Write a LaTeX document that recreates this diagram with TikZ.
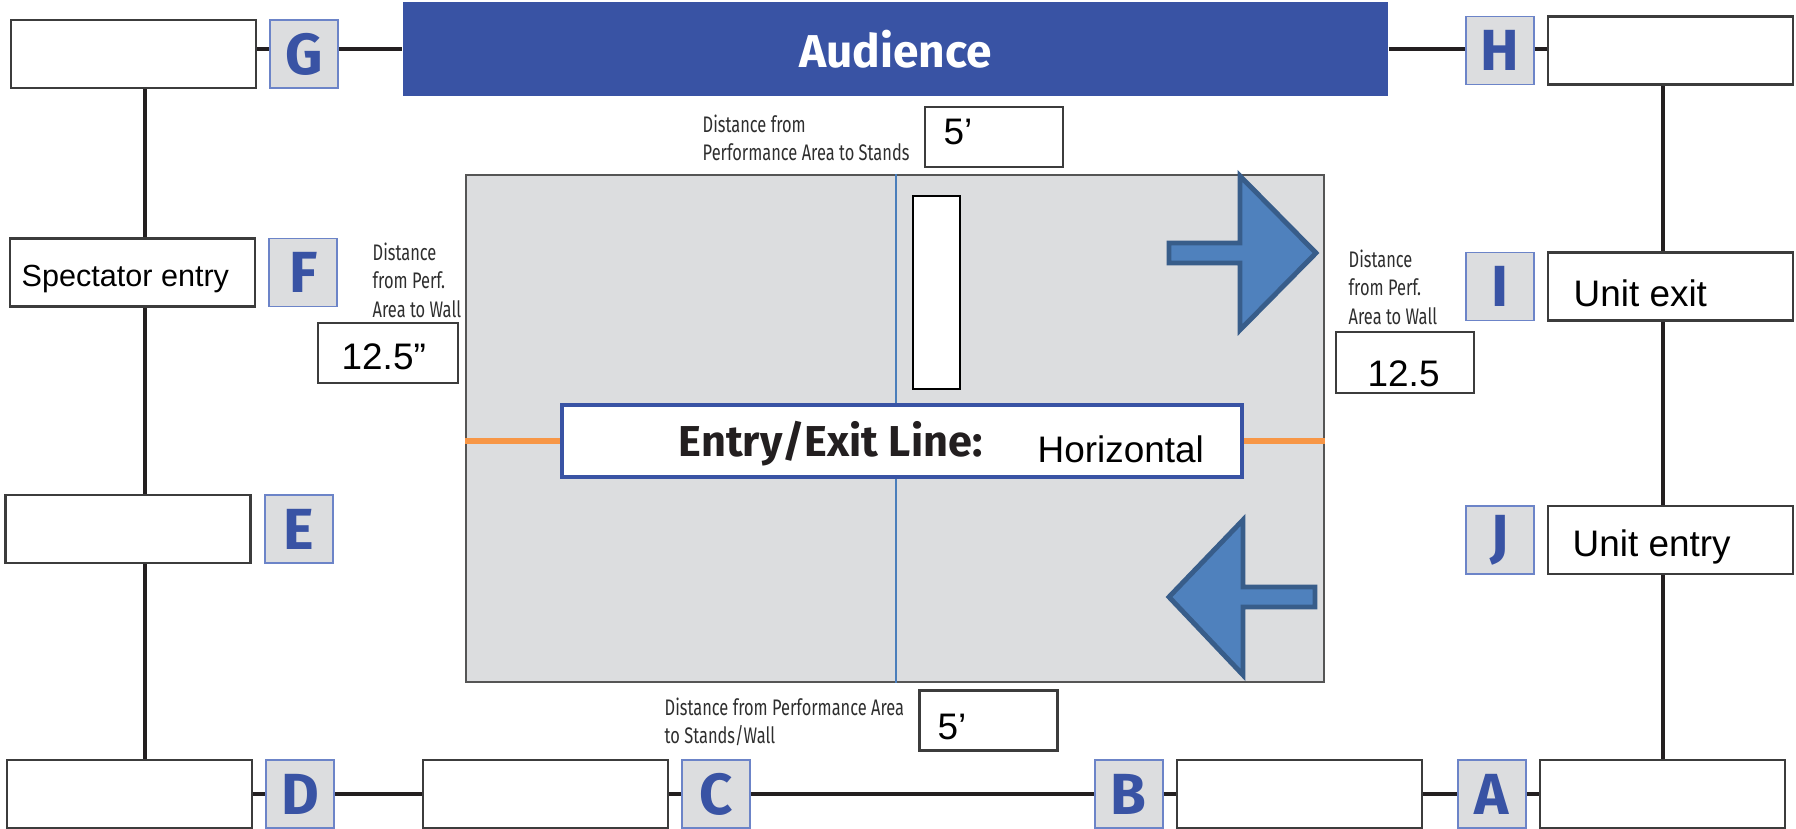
\documentclass[tikz,border=0pt]{standalone}
\usepackage{fontspec}
\setmainfont{Liberation Sans}
\newfontfamily\myriad{Fira Sans}
\newfontfamily\myriadcond[FakeStretch=0.73]{Fira Sans}
\usetikzlibrary{positioning,calc}

\definecolor{audblue}{HTML}{3953A4}
\definecolor{sqblue}{HTML}{6C84C8}
\definecolor{sqgray}{HTML}{DCDDDF}
\definecolor{stagegray}{HTML}{555555}
\definecolor{boxgray}{HTML}{3C3C3C}
\definecolor{linegray}{HTML}{231F20}
\definecolor{arrowfill}{HTML}{4F81BD}
\definecolor{arrowdraw}{HTML}{385D8A}
\definecolor{orangeline}{HTML}{F79646}
\definecolor{midline}{HTML}{4A7EBB}
\definecolor{distgray}{HTML}{2E2E2E}

\begin{document}
\begin{tikzpicture}[x=0.1mm,y=-0.1mm,node distance=0 and 0]
\def\gap{1.2mm}
\tikzstyle{box}=[draw=boxgray,line width=0.75pt,fill=white,minimum width=24.5mm,minimum height=6.8mm,inner sep=0pt]
\tikzstyle{ltr}=[draw=sqblue,line width=0.5pt,fill=sqgray,minimum size=6.8mm,inner sep=0pt,text=audblue,font=\myriad\bfseries\fontsize{16.5}{18}\selectfont]
\tikzstyle{valbox}=[draw=boxgray,line width=0.75pt,fill=white,minimum width=13.8mm,minimum height=6mm,inner sep=0pt]
\tikzstyle{val}=[anchor=base west,inner sep=0pt,font=\fontsize{10.5}{12}\selectfont]
\tikzstyle{dist}=[anchor=north west,inner sep=0pt,align=left,text=distgray,font=\myriadcond\fontsize{6.4}{8.1}\selectfont]
\tikzstyle{conn}=[draw=linegray,line width=1pt]
\tikzstyle{arrowshape}=[fill=arrowfill,draw=arrowdraw,line width=1.4pt,line join=miter]

\useasboundingbox (0,0) rectangle (1796,829);

% performance area
\node[draw=stagegray,fill=sqgray,line width=0.6pt,minimum width=85.8mm,minimum height=50.7mm,inner sep=0pt] (stage) at (895,428.5) {};
\node[draw=audblue,line width=1.2pt,fill=white,minimum width=68mm,minimum height=7.2mm,inner sep=0pt] (entry) at (902,441) {};
\node[draw=black,line width=0.75pt,fill=white,minimum width=4.7mm,minimum height=19.3mm,inner sep=0pt] (slot) at (936.5,292.5) {};
\coordinate (cx) at (896,0);
\draw[midline,line width=0.45pt] (stage.north -| cx) -- (entry.north -| cx)
      (entry.south -| cx) -- (stage.south -| cx);
\draw[orangeline,line width=1.5pt] (stage.west |- entry) -- (entry.west)
      (entry.east) -- (stage.east |- entry);
\node[anchor=base west,inner sep=0pt,text=linegray,font=\myriad\bfseries\fontsize{12.3}{14}\selectfont] (eel) at (678,457) {Entry/Exit Line:};
\node[val] (hz) at (1037,463) {Horizontal};

% exit and entry arrows
\draw[arrowshape] (1169,243) -- (1240,243) -- (1240,176) -- (1316,253) -- (1240,330) -- (1240,263) -- (1169,263) -- cycle;
\draw[arrowshape] (1169,597) -- (1243,520) -- (1243,587) -- (1315,587) -- (1315,607) -- (1243,607) -- (1243,675) -- cycle;

% audience
\node[fill=audblue,minimum width=98.5mm,minimum height=9.4mm,inner sep=0pt,text=white,font=\myriad\bfseries\fontsize{13.1}{15}\selectfont] (aud) at (895.5,49) {Audience};

% boxes round the area
\node[box] (gbox) at (133.5,54) {};
\node[box] (fbox) at (132.5,272.5) {};
\node[box] (ebox) at (128,529) {};
\node[box] (dbox) at (129.5,794) {};
\node[box] (cbox) at (545.5,794) {};
\node[box] (bbox) at (1299.5,794) {};
\node[box] (abox) at (1662.5,794) {};
\node[box] (hbox) at (1670.5,50.5) {};
\node[box] (ibox) at (1670.5,286.5) {};
\node[box] (jbox) at (1670.5,540) {};

\node[ltr,right=\gap of gbox] (g) {G};
\node[ltr,right=\gap of fbox] (f) {F};
\node[ltr,right=\gap of ebox] (e) {E};
\node[ltr,right=\gap of dbox] (d) {D};
\node[ltr,right=\gap of cbox] (c) {C};
\node[ltr,left=\gap of bbox] (b) {B};
\node[ltr,left=\gap of abox] (a) {A};
\node[ltr,left=\gap of hbox] (h) {H};
\node[ltr,left=\gap of ibox] (i) {I};
\node[ltr,left=\gap of jbox] (j) {J};

\node[val,font=\fontsize{8.7}{10}\selectfont] (spec) at (21,287) {Spectator entry};
\node[val] (uexit) at (1573,307) {Unit exit};
\node[val] (uentry) at (1572,557) {Unit entry};

% distances
\node[valbox] (top5) at (994,137) {};
\node[valbox] (bot5) at (988.5,720.5) {};
\node[valbox,minimum width=14mm] (lwall) at (388,353) {};
\node[valbox,minimum height=6.1mm] (rwall) at (1405,362.5) {};
\node[val] at (943,145) {5’};
\node[val] at (937,740) {5’};
\node[val] at (341,370) {12.5”};
\node[val] at (1367,387) {12.5};

\node[dist] (dtop) at (702,114) {Distance from\\Performance Area to Stands};
\node[dist] (dleft) at (372,242) {Distance\\from Perf.\\Area to Wall};
\node[dist] (dright) at (1348,249) {Distance\\from Perf.\\Area to Wall};
\node[dist] (dbot) at (664,697) {Distance from Performance Area\\to Stands/Wall};

% connectors
\draw[conn] (gbox.east |- aud) -- (g.west |- aud)   (g.east |- aud) -- (aud.west)
      (aud.east) -- (h.west |- aud)   (h.east |- aud) -- (hbox.west |- aud);
\draw[conn] (dbox) -- (d)   (d) -- (cbox)   (cbox) -- (c)   (c) -- (b)
      (b) -- (bbox)   (bbox) -- (a)   (a) -- (abox);
\coordinate (lx) at (145,0);
\coordinate (rx) at (1663,0);
\draw[conn] (gbox.south -| lx) -- (fbox.north -| lx)   (fbox.south -| lx) -- (ebox.north -| lx)
      (ebox.south -| lx) -- (dbox.north -| lx);
\draw[conn] (hbox.south -| rx) -- (ibox.north -| rx)   (ibox.south -| rx) -- (jbox.north -| rx)
      (jbox.south -| rx) -- (abox.north -| rx);
\end{tikzpicture}
\end{document}
